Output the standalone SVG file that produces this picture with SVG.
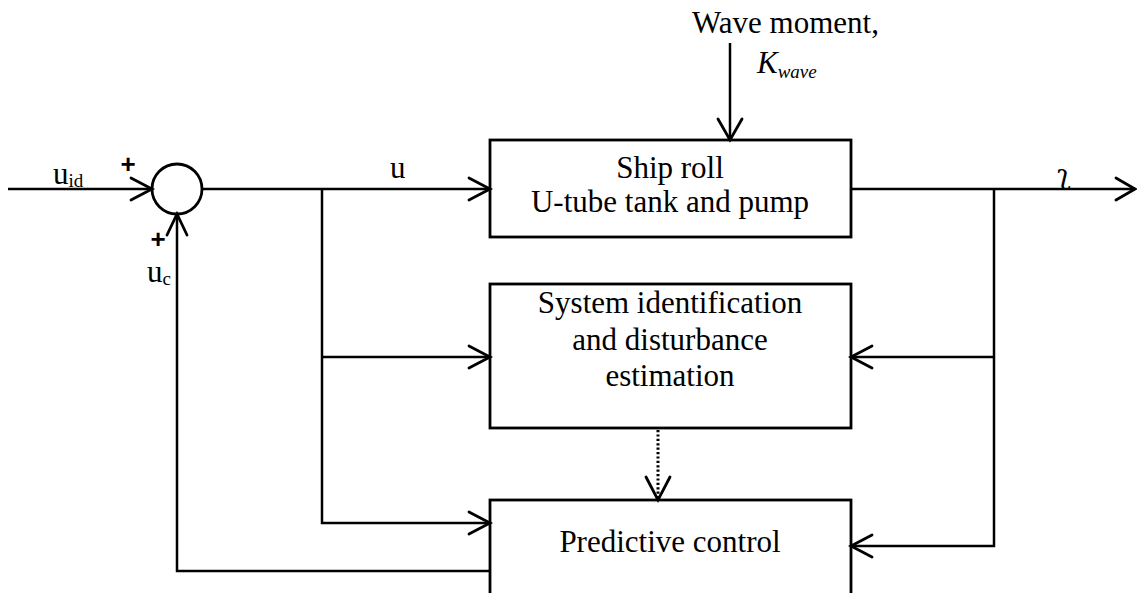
<svg xmlns="http://www.w3.org/2000/svg" width="1137" height="593" viewBox="0 0 1137 593">
<style>
.box{fill:none;stroke:#000;stroke-width:2.8}
.ln{fill:none;stroke:#000;stroke-width:2.5}
.ah{fill:none;stroke:#000;stroke-width:2.8;stroke-linecap:round;stroke-linejoin:miter}
.t{font-family:"Liberation Serif","Times New Roman",serif;font-size:31px;fill:#000}
.c{text-anchor:middle}
.sub{font-size:19px}
.plus{font-family:"Liberation Sans",Arial,sans-serif;font-size:26px;font-weight:bold;text-anchor:middle;fill:#000}
</style>
<rect width="1137" height="593" fill="#fff"/>
<g id="labels">
<text class="t" x="692" y="33">Wave moment,</text>
<text class="t" x="757" y="73" font-style="italic">K<tspan class="sub" dy="5">wave</tspan></text>
<text class="t" x="53" y="184">u<tspan class="sub" dy="3">id</tspan></text>
<text class="plus" x="128" y="173">+</text>
<text class="plus" x="158" y="248">+</text>
<text class="t" x="147" y="282">u<tspan class="sub" dy="3">c</tspan></text>
<text class="t" x="390" y="178">u</text>
<text x="1057" y="184" style="font-family:'DejaVu Serif',serif;font-size:28px;fill:#000">ʅ</text>
</g>
<g id="sum">
<circle cx="177" cy="189" r="25" class="box"/>
</g>
<g id="ship">
<rect x="490" y="140" width="361" height="97" class="box"/>
<text class="t c" x="670" y="178">Ship roll</text>
<text class="t c" x="670" y="212">U-tube tank and pump</text>
</g>
<g id="sysid">
<rect x="490" y="284" width="361" height="144" class="box"/>
<text class="t c" x="670" y="313">System identification</text>
<text class="t c" x="670" y="350">and disturbance</text>
<text class="t c" x="670" y="386">estimation</text>
</g>
<g id="pred">
<rect x="490" y="500" width="361" height="120" class="box"/>
<text class="t c" x="670" y="552">Predictive control</text>
</g>
<g id="connectors">
<path class="ln" d="M8 189H152"/>
<path class="ah" d="M131 178L152 189L131 200"/>
<path class="ln" d="M202 189H490"/>
<path class="ah" d="M469 178L490 189L469 200"/>
<path class="ln" d="M730 43V140"/>
<path class="ah" d="M718 119L730 140L742 119"/>
<path class="ln" d="M851 189H1135"/>
<path class="ah" d="M1116 178L1135 189L1116 200"/>
<path class="ln" d="M322 189V523H490"/>
<path class="ln" d="M322 357H490"/>
<path class="ah" d="M469 346L490 357L469 368"/>
<path class="ah" d="M469 512L490 523L469 534"/>
<path class="ln" d="M994 189V546H851"/>
<path class="ln" d="M994 357H851"/>
<path class="ah" d="M872 346L851 357L872 368"/>
<path class="ah" d="M872 535L851 546L872 557"/>
<path class="ln" d="M490 571H177V214"/>
<path class="ah" d="M167 235L177 214L187 235"/>
<path d="M658 430V498" fill="none" stroke="#000" stroke-width="3" stroke-dasharray="2.2 2.2"/>
<path class="ah" d="M646 477L658 500L670 477"/>
</g>
</svg>
